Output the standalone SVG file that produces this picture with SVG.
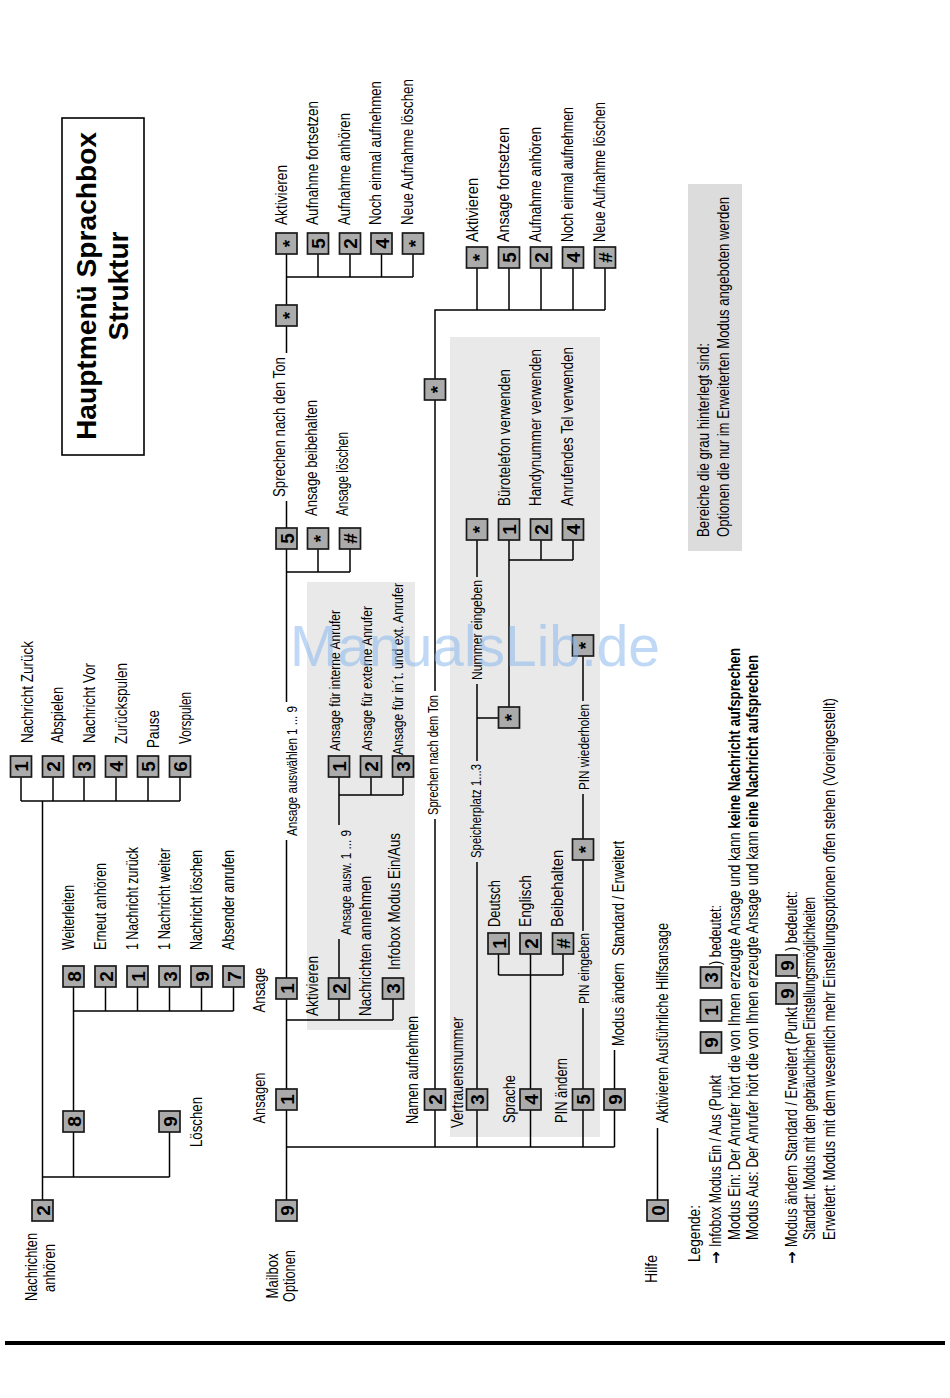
<svg xmlns="http://www.w3.org/2000/svg" width="950" height="1398" viewBox="0 0 950 1398">
<style>
text{font-family:"Liberation Sans",Arial,Helvetica,sans-serif;fill:#000}
.t{font-size:16px}
.s{font-size:14.5px}
.m{text-anchor:middle}
.bd{font-weight:bold}
.ar{font-family:"DejaVu Sans","Liberation Sans",sans-serif;font-size:15px;font-weight:bold}
.ti{font-size:28px;font-weight:bold;text-anchor:middle}
rect.k{fill:#ababab;stroke:#1a1a1a;stroke-width:1.7}
.d{font-size:19px;font-weight:bold;text-anchor:middle}
.a{font-size:19px;font-weight:bold;text-anchor:middle}
#connectors path{stroke:#000;stroke-width:1.5;fill:none}
.area{fill:#e9e9e9}
.wm{font-size:57px;fill:#8cb9ee;opacity:0.55}
</style>
<rect width="950" height="1398" fill="#fff"/>
<g id="areas">
<rect class="area" x="307" y="582" width="108" height="448"/>
<rect class="area" x="450" y="337" width="150" height="800"/>
</g>
<g id="title">
<rect x="62" y="118" width="82" height="337" fill="none" stroke="#000" stroke-width="1.6"/>
<text class="ti" transform="translate(96,286) rotate(-90)" textLength="308" lengthAdjust="spacingAndGlyphs">Hauptmenü Sprachbox</text>
<text class="ti" transform="translate(128,286) rotate(-90)">Struktur</text>
</g>
<g id="connectors">
<path d="M42.5 1200V801M21 801H180M21 801V777M53 801V777M84 801V777M116 801V777M148 801V777M180 801V777"/>
<path d="M42.5 1177H169.5M73.5 1177V1132M169.5 1177V1132M73.5 1111V987M73.5 1011H233.5M105.5 1011V987M137.5 1011V987M169.5 1011V987M201.5 1011V987M233.5 1011V987"/>
<path d="M286.5 1200V1110M286.5 1089V999M286.5 1020H393M339 1020V999M393 1020V999"/>
<path d="M286.5 978V840M286.5 702V549M286.5 572H350M318 572V549M350 572V549"/>
<path d="M286.5 528V501M286.5 353V326M286.5 305V254M286.5 277H413M318 277V254M350 277V254M381.5 277V254M413 277V254"/>
<path d="M339 978V939M339 825V777M339 795H403M371 795V777M403 795V777"/>
<path d="M286.5 1147H614.5M435 1147V1110M477 1147V1110M530.5 1147V1110M583 1147V1110M614.5 1147V1110"/>
<path d="M435 1089V819M435 691V400M435 379V310H605M477 310V268M509 310V268M541 310V268M573 310V268M605 310V268"/>
<path d="M477 1089V862M477 761V684M477 718H498.5M477 577V540M509 707V540M509 560H573M541 560V540M573 560V540"/>
<path d="M530.5 1089V954M498.5 975H563M498.5 975V954M563 975V954"/>
<path d="M583 1089V1008M583 931V860M583 839V794M583 701V656M614.5 1089V1050M657.5 1200V1128"/>
</g>
<g id="n-nachrichten">
<rect class="k" x="32" y="1200" width="21" height="21"/><text class="d" transform="translate(42.5,1210.5) rotate(-90)" dy="7">2</text>
<text class="t m" transform="translate(37,1267) rotate(-90)" textLength="68" lengthAdjust="spacingAndGlyphs">Nachrichten</text>
<text class="t m" transform="translate(55,1268) rotate(-90)" textLength="48" lengthAdjust="spacingAndGlyphs">anhören</text>
</g>
<g id="n-play">
<rect class="k" x="10.5" y="756" width="21" height="21"/><text class="d" transform="translate(21,766.5) rotate(-90)" dy="7">1</text>
<rect class="k" x="42.5" y="756" width="21" height="21"/><text class="d" transform="translate(53,766.5) rotate(-90)" dy="7">2</text>
<rect class="k" x="73.5" y="756" width="21" height="21"/><text class="d" transform="translate(84,766.5) rotate(-90)" dy="7">3</text>
<rect class="k" x="105.5" y="756" width="21" height="21"/><text class="d" transform="translate(116,766.5) rotate(-90)" dy="7">4</text>
<rect class="k" x="137.5" y="756" width="21" height="21"/><text class="d" transform="translate(148,766.5) rotate(-90)" dy="7">5</text>
<rect class="k" x="169.5" y="756" width="21" height="21"/><text class="d" transform="translate(180,766.5) rotate(-90)" dy="7">6</text>
<text class="t" transform="translate(32.5,743) rotate(-90)" textLength="102" lengthAdjust="spacingAndGlyphs">Nachricht Zurück</text>
<text class="t" transform="translate(63,743) rotate(-90)" textLength="56" lengthAdjust="spacingAndGlyphs">Abspielen</text>
<text class="t" transform="translate(95,743) rotate(-90)" textLength="80" lengthAdjust="spacingAndGlyphs">Nachricht Vor</text>
<text class="t" transform="translate(127,744) rotate(-90)" textLength="81" lengthAdjust="spacingAndGlyphs">Zurückspulen</text>
<text class="t" transform="translate(159,748) rotate(-90)" textLength="38" lengthAdjust="spacingAndGlyphs">Pause</text>
<text class="t" transform="translate(191,744) rotate(-90)" textLength="52" lengthAdjust="spacingAndGlyphs">Vorspulen</text>
</g>
<g id="n-weiter">
<rect class="k" x="63" y="1111" width="21" height="21"/><text class="d" transform="translate(73.5,1121.5) rotate(-90)" dy="7">8</text>
<rect class="k" x="63" y="966" width="21" height="21"/><text class="d" transform="translate(73.5,976.5) rotate(-90)" dy="7">8</text>
<rect class="k" x="95" y="966" width="21" height="21"/><text class="d" transform="translate(105.5,976.5) rotate(-90)" dy="7">2</text>
<rect class="k" x="127" y="966" width="21" height="21"/><text class="d" transform="translate(137.5,976.5) rotate(-90)" dy="7">1</text>
<rect class="k" x="159" y="966" width="21" height="21"/><text class="d" transform="translate(169.5,976.5) rotate(-90)" dy="7">3</text>
<rect class="k" x="191" y="966" width="21" height="21"/><text class="d" transform="translate(201.5,976.5) rotate(-90)" dy="7">9</text>
<rect class="k" x="223" y="966" width="21" height="21"/><text class="d" transform="translate(233.5,976.5) rotate(-90)" dy="7">7</text>
<text class="t" transform="translate(74,950) rotate(-90)" textLength="65" lengthAdjust="spacingAndGlyphs">Weiterleiten</text>
<text class="t" transform="translate(106,950) rotate(-90)" textLength="87" lengthAdjust="spacingAndGlyphs">Erneut anhören</text>
<text class="t" transform="translate(138,950) rotate(-90)" textLength="103" lengthAdjust="spacingAndGlyphs">1 Nachricht zurück</text>
<text class="t" transform="translate(170,950) rotate(-90)" textLength="102" lengthAdjust="spacingAndGlyphs">1 Nachricht weiter</text>
<text class="t" transform="translate(202,950) rotate(-90)" textLength="100" lengthAdjust="spacingAndGlyphs">Nachricht löschen</text>
<text class="t" transform="translate(234,950) rotate(-90)" textLength="100" lengthAdjust="spacingAndGlyphs">Absender anrufen</text>
</g>
<g id="n-loeschen">
<rect class="k" x="159" y="1111" width="21" height="21"/><text class="d" transform="translate(169.5,1121.5) rotate(-90)" dy="7">9</text>
<text class="t" transform="translate(202,1147) rotate(-90)" textLength="50" lengthAdjust="spacingAndGlyphs">Löschen</text>
</g>
<g id="n-mailbox">
<rect class="k" x="276" y="1200" width="21" height="21"/><text class="d" transform="translate(286.5,1210.5) rotate(-90)" dy="7">9</text>
<text class="t m" transform="translate(278,1276) rotate(-90)" textLength="45" lengthAdjust="spacingAndGlyphs">Mailbox</text>
<text class="t m" transform="translate(295,1276) rotate(-90)" textLength="52" lengthAdjust="spacingAndGlyphs">Optionen</text>
</g>
<g id="n-ansagen">
<rect class="k" x="276" y="1089" width="21" height="21"/><text class="d" transform="translate(286.5,1099.5) rotate(-90)" dy="7">1</text>
<text class="t m" transform="translate(265,1098) rotate(-90)" textLength="51" lengthAdjust="spacingAndGlyphs">Ansagen</text>
</g>
<g id="n-ansage">
<rect class="k" x="276" y="978" width="21" height="21"/><text class="d" transform="translate(286.5,988.5) rotate(-90)" dy="7">1</text>
<text class="t m" transform="translate(265,990) rotate(-90)" textLength="45" lengthAdjust="spacingAndGlyphs">Ansage</text>
<text class="s" transform="translate(297,836) rotate(-90)" textLength="130" lengthAdjust="spacingAndGlyphs">Ansage auswählen 1 ... 9</text>
</g>
<g id="n-aktivieren">
<rect class="k" x="328.5" y="978" width="21" height="21"/><text class="d" transform="translate(339,988.5) rotate(-90)" dy="7">2</text>
<text class="t" transform="translate(318,1016) rotate(-90)" textLength="60" lengthAdjust="spacingAndGlyphs">Aktivieren</text>
<text class="s" transform="translate(351,935) rotate(-90)" textLength="105" lengthAdjust="spacingAndGlyphs">Ansage ausw. 1 ... 9</text>
</g>
<g id="n-infobox">
<rect class="k" x="382.5" y="978" width="21" height="21"/><text class="d" transform="translate(393,988.5) rotate(-90)" dy="7">3</text>
<text class="t" transform="translate(371,1016) rotate(-90)" textLength="140" lengthAdjust="spacingAndGlyphs">Nachrichten annehmen</text>
<text class="t" transform="translate(400,970) rotate(-90)" textLength="137" lengthAdjust="spacingAndGlyphs">Infobox Modus Ein/Aus</text>
</g>
<g id="n-anrufer">
<rect class="k" x="328.5" y="756" width="21" height="21"/><text class="d" transform="translate(339,766.5) rotate(-90)" dy="7">1</text>
<rect class="k" x="360.5" y="756" width="21" height="21"/><text class="d" transform="translate(371,766.5) rotate(-90)" dy="7">2</text>
<rect class="k" x="392.5" y="756" width="21" height="21"/><text class="d" transform="translate(403,766.5) rotate(-90)" dy="7">3</text>
<text class="s" transform="translate(340,751) rotate(-90)" textLength="141" lengthAdjust="spacingAndGlyphs">Ansage für interne Anrufer</text>
<text class="s" transform="translate(372,751) rotate(-90)" textLength="145" lengthAdjust="spacingAndGlyphs">Ansage für externe Anrufer</text>
<text class="s" transform="translate(403,755) rotate(-90)" textLength="172" lengthAdjust="spacingAndGlyphs">Ansage für in´t. und ext. Anrufer</text>
</g>
<g id="n-sprechen1">
<rect class="k" x="276" y="528" width="21" height="21"/><text class="d" transform="translate(286.5,538.5) rotate(-90)" dy="7">5</text>
<rect class="k" x="307.5" y="528" width="21" height="21"/><text class="a" transform="translate(318,538.5) rotate(-90)" dy="9">*</text>
<rect class="k" x="339.5" y="528" width="21" height="21"/><text class="d" transform="translate(350,538.5) rotate(-90)" dy="7">#</text>
<text class="t" transform="translate(285,497) rotate(-90)" textLength="140" lengthAdjust="spacingAndGlyphs">Sprechen nach den Ton</text>
<text class="t" transform="translate(317,516) rotate(-90)" textLength="116" lengthAdjust="spacingAndGlyphs">Ansage beibehalten</text>
<text class="t" transform="translate(348,516) rotate(-90)" textLength="84" lengthAdjust="spacingAndGlyphs">Ansage löschen</text>
</g>
<g id="n-aufnahme1">
<rect class="k" x="276" y="305" width="21" height="21"/><text class="a" transform="translate(286.5,315.5) rotate(-90)" dy="9">*</text>
<rect class="k" x="276" y="233" width="21" height="21"/><text class="a" transform="translate(286.5,243.5) rotate(-90)" dy="9">*</text>
<rect class="k" x="307.5" y="233" width="21" height="21"/><text class="d" transform="translate(318,243.5) rotate(-90)" dy="7">5</text>
<rect class="k" x="339.5" y="233" width="21" height="21"/><text class="d" transform="translate(350,243.5) rotate(-90)" dy="7">2</text>
<rect class="k" x="371" y="233" width="21" height="21"/><text class="d" transform="translate(381.5,243.5) rotate(-90)" dy="7">4</text>
<rect class="k" x="402.5" y="233" width="21" height="21"/><text class="a" transform="translate(413,243.5) rotate(-90)" dy="9">*</text>
<text class="t" transform="translate(287,225) rotate(-90)" textLength="60" lengthAdjust="spacingAndGlyphs">Aktivieren</text>
<text class="t" transform="translate(318,225) rotate(-90)" textLength="124" lengthAdjust="spacingAndGlyphs">Aufnahme fortsetzen</text>
<text class="t" transform="translate(349.5,225) rotate(-90)" textLength="112" lengthAdjust="spacingAndGlyphs">Aufnahme anhören</text>
<text class="t" transform="translate(381,225) rotate(-90)" textLength="144" lengthAdjust="spacingAndGlyphs">Noch einmal aufnehmen</text>
<text class="t" transform="translate(413,225) rotate(-90)" textLength="146" lengthAdjust="spacingAndGlyphs">Neue Aufnahme löschen</text>
</g>
<g id="n-namen">
<rect class="k" x="424.5" y="1089" width="21" height="21"/><text class="d" transform="translate(435,1099.5) rotate(-90)" dy="7">2</text>
<text class="t" transform="translate(418,1124) rotate(-90)" textLength="108" lengthAdjust="spacingAndGlyphs">Namen aufnehmen</text>
<text class="s" transform="translate(438,815) rotate(-90)" textLength="120" lengthAdjust="spacingAndGlyphs">Sprechen nach dem Ton</text>
</g>
<g id="n-aufnahme2">
<rect class="k" x="424.5" y="379" width="21" height="21"/><text class="a" transform="translate(435,389.5) rotate(-90)" dy="9">*</text>
<rect class="k" x="466.5" y="247" width="21" height="21"/><text class="a" transform="translate(477,257.5) rotate(-90)" dy="9">*</text>
<rect class="k" x="498.5" y="247" width="21" height="21"/><text class="d" transform="translate(509,257.5) rotate(-90)" dy="7">5</text>
<rect class="k" x="530.5" y="247" width="21" height="21"/><text class="d" transform="translate(541,257.5) rotate(-90)" dy="7">2</text>
<rect class="k" x="562.5" y="247" width="21" height="21"/><text class="d" transform="translate(573,257.5) rotate(-90)" dy="7">4</text>
<rect class="k" x="594.5" y="247" width="21" height="21"/><text class="d" transform="translate(605,257.5) rotate(-90)" dy="7">#</text>
<text class="t" transform="translate(478,242) rotate(-90)" textLength="64" lengthAdjust="spacingAndGlyphs">Aktivieren</text>
<text class="t" transform="translate(509,242) rotate(-90)" textLength="115" lengthAdjust="spacingAndGlyphs">Ansage fortsetzen</text>
<text class="t" transform="translate(541,242) rotate(-90)" textLength="115" lengthAdjust="spacingAndGlyphs">Aufnahme anhören</text>
<text class="t" transform="translate(573,242) rotate(-90)" textLength="135" lengthAdjust="spacingAndGlyphs">Noch einmal aufnehmen</text>
<text class="t" transform="translate(605,242) rotate(-90)" textLength="140" lengthAdjust="spacingAndGlyphs">Neue Aufnahme löschen</text>
</g>
<g id="n-vertrauen">
<rect class="k" x="466.5" y="1089" width="21" height="21"/><text class="d" transform="translate(477,1099.5) rotate(-90)" dy="7">3</text>
<text class="t" transform="translate(463,1128) rotate(-90)" textLength="111" lengthAdjust="spacingAndGlyphs">Vertrauensnummer</text>
<text class="s" transform="translate(481,858) rotate(-90)" textLength="94" lengthAdjust="spacingAndGlyphs">Speicherplatz 1...3</text>
<rect class="k" x="498.5" y="707" width="21" height="21"/><text class="a" transform="translate(509,717.5) rotate(-90)" dy="9">*</text>
<text class="s" transform="translate(482,680) rotate(-90)" textLength="100" lengthAdjust="spacingAndGlyphs">Nummer eingeben</text>
<rect class="k" x="466.5" y="519" width="21" height="21"/><text class="a" transform="translate(477,529.5) rotate(-90)" dy="9">*</text>
</g>
<g id="n-telefon">
<rect class="k" x="498.5" y="519" width="21" height="21"/><text class="d" transform="translate(509,529.5) rotate(-90)" dy="7">1</text>
<rect class="k" x="530.5" y="519" width="21" height="21"/><text class="d" transform="translate(541,529.5) rotate(-90)" dy="7">2</text>
<rect class="k" x="562.5" y="519" width="21" height="21"/><text class="d" transform="translate(573,529.5) rotate(-90)" dy="7">4</text>
<text class="t" transform="translate(510,506) rotate(-90)" textLength="137" lengthAdjust="spacingAndGlyphs">Bürotelefon verwenden</text>
<text class="t" transform="translate(541,506) rotate(-90)" textLength="157" lengthAdjust="spacingAndGlyphs">Handynummer verwenden</text>
<text class="t" transform="translate(573,506) rotate(-90)" textLength="159" lengthAdjust="spacingAndGlyphs">Anrufendes Tel verwenden</text>
</g>
<g id="n-sprache">
<rect class="k" x="520" y="1089" width="21" height="21"/><text class="d" transform="translate(530.5,1099.5) rotate(-90)" dy="7">4</text>
<text class="t" transform="translate(515,1123) rotate(-90)" textLength="48" lengthAdjust="spacingAndGlyphs">Sprache</text>
<rect class="k" x="488" y="933" width="21" height="21"/><text class="d" transform="translate(498.5,943.5) rotate(-90)" dy="7">1</text>
<rect class="k" x="520" y="933" width="21" height="21"/><text class="d" transform="translate(530.5,943.5) rotate(-90)" dy="7">2</text>
<rect class="k" x="552.5" y="933" width="21" height="21"/><text class="d" transform="translate(563,943.5) rotate(-90)" dy="7">#</text>
<text class="t" transform="translate(500,927) rotate(-90)" textLength="47" lengthAdjust="spacingAndGlyphs">Deutsch</text>
<text class="t" transform="translate(531,927) rotate(-90)" textLength="52" lengthAdjust="spacingAndGlyphs">Englisch</text>
<text class="t" transform="translate(563,927) rotate(-90)" textLength="77" lengthAdjust="spacingAndGlyphs">Beibehalten</text>
</g>
<g id="n-pin">
<rect class="k" x="572.5" y="1089" width="21" height="21"/><text class="d" transform="translate(583,1099.5) rotate(-90)" dy="7">5</text>
<text class="t" transform="translate(567,1123) rotate(-90)" textLength="65" lengthAdjust="spacingAndGlyphs">PIN ändern</text>
<text class="s" transform="translate(589,1004) rotate(-90)" textLength="71" lengthAdjust="spacingAndGlyphs">PIN eingeben</text>
<rect class="k" x="572.5" y="839" width="21" height="21"/><text class="a" transform="translate(583,849.5) rotate(-90)" dy="9">*</text>
<text class="s" transform="translate(589,790) rotate(-90)" textLength="86" lengthAdjust="spacingAndGlyphs">PIN wiederholen</text>
<rect class="k" x="572.5" y="635" width="21" height="21"/><text class="a" transform="translate(583,645.5) rotate(-90)" dy="9">*</text>
</g>
<g id="n-modus">
<rect class="k" x="604" y="1089" width="21" height="21"/><text class="d" transform="translate(614.5,1099.5) rotate(-90)" dy="7">9</text>
<text class="t" xml:space="preserve" transform="translate(624,1046) rotate(-90)" textLength="205" lengthAdjust="spacingAndGlyphs">Modus ändern  Standard / Erweitert</text>
</g>
<g id="n-hilfe">
<rect class="k" x="647" y="1200" width="21" height="21"/><text class="d" transform="translate(657.5,1210.5) rotate(-90)" dy="7">0</text>
<text class="t" transform="translate(657,1283) rotate(-90)" textLength="28" lengthAdjust="spacingAndGlyphs">Hilfe</text>
<text class="t" transform="translate(668,1123) rotate(-90)" textLength="200" lengthAdjust="spacingAndGlyphs">Aktivieren Ausführliche Hilfsansage</text>
</g>
<g id="legend">
<text class="t" transform="translate(700,1262) rotate(-90)" textLength="57" lengthAdjust="spacingAndGlyphs">Legende:</text>
<text class="ar" transform="translate(721,1264) rotate(-90)">→</text>
<text class="t" transform="translate(721,1247) rotate(-90)" textLength="172" lengthAdjust="spacingAndGlyphs">Infobox Modus Ein / Aus (Punkt</text>
<rect class="k" x="700.5" y="1032" width="21" height="21"/><text class="d" transform="translate(711,1042.5) rotate(-90)" dy="7">9</text>
<rect class="k" x="700.5" y="1000" width="21" height="21"/><text class="d" transform="translate(711,1010.5) rotate(-90)" dy="7">1</text>
<rect class="k" x="700.5" y="967" width="21" height="21"/><text class="d" transform="translate(711,977.5) rotate(-90)" dy="7">3</text>
<text class="t" transform="translate(721,965) rotate(-90)" textLength="60" lengthAdjust="spacingAndGlyphs">) bedeutet:</text>
<text class="t" transform="translate(740,1240) rotate(-90)" textLength="592" lengthAdjust="spacingAndGlyphs">Modus Ein: Der Anrufer hört die von Ihnen erzeugte Ansage und kann <tspan class="bd">keine Nachricht aufsprechen</tspan></text>
<text class="t" transform="translate(758,1240) rotate(-90)" textLength="585" lengthAdjust="spacingAndGlyphs">Modus Aus: Der Anrufer hört die von Ihnen erzeugte Ansage und kann <tspan class="bd">eine Nachricht aufsprechen</tspan></text>
<text class="ar" transform="translate(797,1264) rotate(-90)">→</text>
<text class="t" transform="translate(797,1247) rotate(-90)" textLength="240" lengthAdjust="spacingAndGlyphs">Modus ändern Standard / Erweitert (Punkt</text>
<rect class="k" x="776" y="983" width="21" height="21"/><text class="d" transform="translate(786.5,993.5) rotate(-90)" dy="7">9</text>
<text class="t" transform="translate(799,980) rotate(-90)">,</text>
<rect class="k" x="776" y="955" width="21" height="21"/><text class="d" transform="translate(786.5,965.5) rotate(-90)" dy="7">9</text>
<text class="t" transform="translate(797,951) rotate(-90)" textLength="60" lengthAdjust="spacingAndGlyphs">) bedeutet:</text>
<text class="t" transform="translate(815,1240) rotate(-90)" textLength="343" lengthAdjust="spacingAndGlyphs">Standart: Modus mit den gebräuchlichen Einstellungsmöglichkeiten</text>
<text class="t" transform="translate(835,1240) rotate(-90)" textLength="542" lengthAdjust="spacingAndGlyphs">Erweitert: Modus mit dem wesentlich mehr Einstellungsoptionen offen stehen (Voreingestellt)</text>
</g>
<g id="note">
<rect x="688" y="184" width="54" height="367" fill="#dcdcdc"/>
<text class="t" transform="translate(709,537) rotate(-90)" textLength="194" lengthAdjust="spacingAndGlyphs">Bereiche die grau hinterlegt sind:</text>
<text class="t" transform="translate(729,537) rotate(-90)" textLength="340" lengthAdjust="spacingAndGlyphs">Optionen die nur im Erweiterten Modus angeboten werden</text>
</g>
<rect x="5" y="1341" width="940" height="4" fill="#000"/>
<text class="wm" x="290" y="666" textLength="370" lengthAdjust="spacingAndGlyphs">ManualsLib.de</text>
</svg>
